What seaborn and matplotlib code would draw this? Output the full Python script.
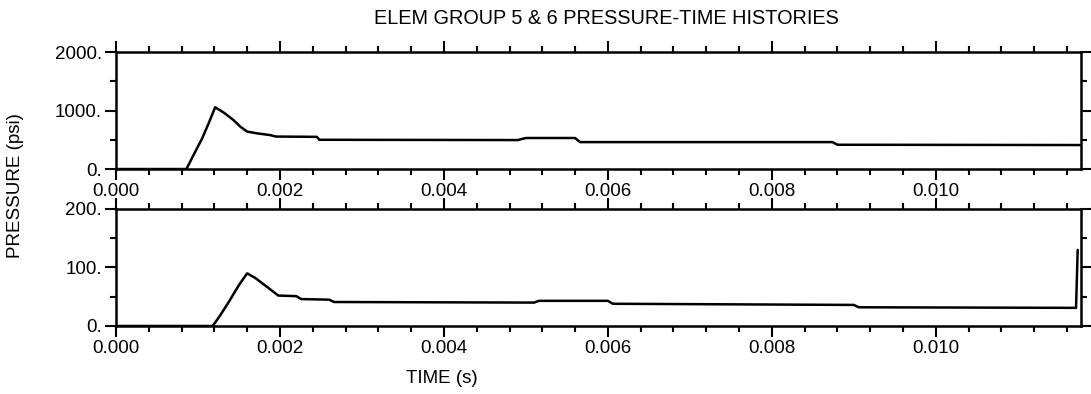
import matplotlib
matplotlib.use("Agg")
import matplotlib.pyplot as plt
import seaborn as sns
from matplotlib.ticker import MultipleLocator, FuncFormatter

# upper panel (elem group 5)
top_time = [0.0, 0.00086, 0.00095, 0.00105, 0.00113, 0.00121, 0.00132, 0.00143, 0.00152,
            0.00160, 0.00172, 0.00188, 0.00195, 0.00245, 0.00248, 0.00490, 0.00500,
            0.00560, 0.00566, 0.00874, 0.00880, 0.01177]
top_pressure = [0.0, 0.0, 250.0, 520.0, 780.0, 1055.0, 960.0, 840.0, 720.0,
                640.0, 610.0, 580.0, 555.0, 550.0, 500.0, 495.0, 530.0,
                530.0, 460.0, 460.0, 415.0, 410.0]

# lower panel (elem group 6)
bot_time = [0.0, 0.00118, 0.00127, 0.00138, 0.00150, 0.00160, 0.00170, 0.00185, 0.00198,
            0.00220, 0.00226, 0.00260, 0.00266, 0.00510, 0.00516, 0.00600, 0.00606,
            0.00900, 0.00906, 0.01171, 0.01173]
bot_pressure = [0.0, 0.0, 18.0, 42.0, 70.0, 90.0, 82.0, 66.0, 52.0,
                51.0, 46.0, 45.0, 41.0, 40.0, 43.0, 43.0, 38.0,
                36.0, 32.0, 31.0, 130.0]

x_max = 0.01177

sns.set_style("ticks")
plt.rcParams["font.family"] = ["Liberation Sans", "DejaVu Sans"]
plt.rcParams["font.size"] = 13
plt.rcParams["text.color"] = "black"

fig = plt.figure(figsize=(10.91, 3.94), dpi=100)
ax1 = fig.add_axes([0.1063, 0.571, 0.8845, 0.297])
ax2 = fig.add_axes([0.1063, 0.1726, 0.8845, 0.297])

panels = [(ax1, top_time, top_pressure, 2000, 1000, 500),
          (ax2, bot_time, bot_pressure, 200, 100, 50)]

for ax, t, p, ymax, major, minor in panels:
    sns.lineplot(x=t, y=p, ax=ax, color="black", lw=1.8, estimator=None, sort=False)
    ax.set_xlim(0, x_max)
    ax.set_ylim(0, ymax)
    ax.xaxis.set_major_locator(MultipleLocator(0.002))
    ax.xaxis.set_minor_locator(MultipleLocator(0.0004))
    ax.yaxis.set_major_locator(MultipleLocator(major))
    ax.yaxis.set_minor_locator(MultipleLocator(minor))
    ax.xaxis.set_major_formatter(FuncFormatter(lambda v, pos: f"{v:.3f}"))
    ax.yaxis.set_major_formatter(FuncFormatter(lambda v, pos: f"{v:.0f}."))
    ax.tick_params(which="both", direction="out", top=True, right=True,
                   labelright=False, labeltop=False, width=1.5, colors="black",
                   labelsize=13.5)
    ax.tick_params(which="major", length=8, pad=2)
    ax.tick_params(which="minor", length=4)
    for s in ax.spines.values():
        s.set_visible(True)
        s.set_linewidth(1.8)
        s.set_color("black")
    ax.set_xlabel("")
    ax.set_ylabel("")

fig.text(0.556, 0.954, "ELEM GROUP 5 & 6 PRESSURE-TIME HISTORIES",
         ha="center", va="center", fontsize=14.3, color="black")
fig.text(0.014, 0.528, "PRESSURE (psi)", rotation=90, ha="center", va="center",
         fontsize=13.5, color="black")
fig.text(0.405, 0.04, "TIME (s)", ha="center", va="center", fontsize=13.5,
         color="black")

fig.savefig("out.png", dpi=100, facecolor="white")
